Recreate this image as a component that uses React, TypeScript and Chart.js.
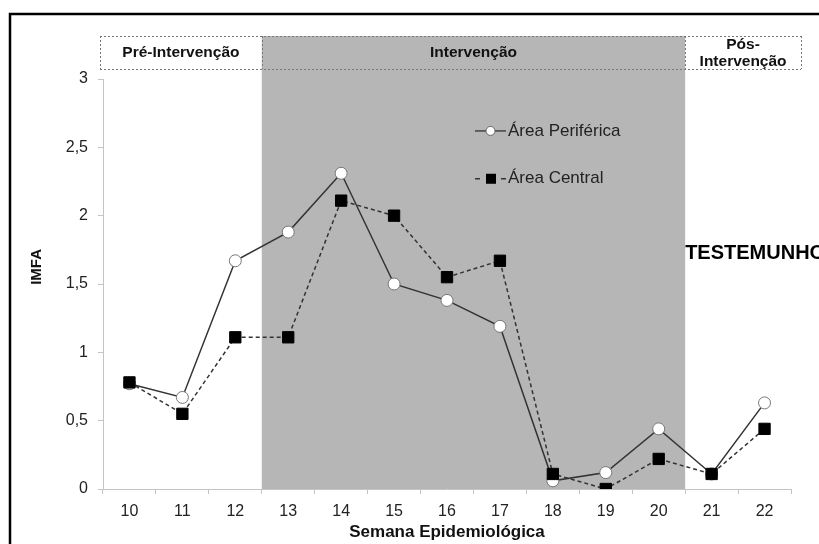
import React, { useEffect, useRef } from 'react';
import { Chart, registerables } from 'chart.js';

Chart.register(...registerables);

const weeks = ['10', '11', '12', '13', '14', '15', '16', '17', '18', '19', '20', '21', '22'];
const periferica = [0.77, 0.67, 1.67, 1.88, 2.31, 1.5, 1.38, 1.19, 0.06, 0.12, 0.44, 0.11, 0.63];
const central = [0.78, 0.55, 1.11, 1.11, 2.11, 2.0, 1.55, 1.67, 0.11, 0.0, 0.22, 0.11, 0.44];
const seriesNames = ['Área Periférica', 'Área Central'];
const phaseLabels = ['Pré-Intervenção', 'Intervenção', 'Pós-', 'Intervenção'];
const sideLabel = 'TESTEMUNHO';
const yTitle = 'IMFA';
const xTitle = 'Semana Epidemiológica';

const FONT = '"Liberation Sans", Arial, Helvetica, sans-serif';

const decorPlugin = {
  id: 'decor',
  beforeDraw(chart: any) {
    const { ctx } = chart;
    const xs = chart.scales.x;
    const ys = chart.scales.y;
    const bnd = (i: number) => (xs.getPixelForValue(i) + xs.getPixelForValue(i + 1)) / 2;
    const interL = bnd(2);
    const interR = bnd(10);
    const top = ys.getPixelForValue(3) - 43;
    const boxB = top + 33;
    const bottom = ys.getPixelForValue(0);
    const preL = xs.left - 3;
    const posR = xs.right + 10;
    ctx.save();
    ctx.fillStyle = 'rgb(182,182,182)';
    ctx.fillRect(interL, top, interR - interL, bottom - top);
    // dashed boxes
    ctx.strokeStyle = '#777';
    ctx.lineWidth = 1;
    ctx.setLineDash([2, 2]);
    ctx.beginPath();
    ctx.moveTo(preL, top + 0.5); ctx.lineTo(posR, top + 0.5);
    ctx.moveTo(preL, boxB + 0.5); ctx.lineTo(posR, boxB + 0.5);
    for (const x of [preL, interL, interR, posR]) {
      ctx.moveTo(Math.round(x) + 0.5, top); ctx.lineTo(Math.round(x) + 0.5, boxB);
    }
    ctx.stroke();
    ctx.setLineDash([]);
    // phase texts
    ctx.fillStyle = '#111';
    ctx.font = `bold 15.5px ${FONT}`;
    ctx.textAlign = 'center';
    ctx.textBaseline = 'middle';
    const mid = (top + boxB) / 2;
    ctx.fillText(phaseLabels[0], (preL + interL) / 2, mid);
    ctx.fillText(phaseLabels[1], (interL + interR) / 2, mid);
    ctx.fillText(phaseLabels[2], (interR + posR) / 2, mid - 8);
    ctx.fillText(phaseLabels[3], (interR + posR) / 2, mid + 9);
    // side label
    ctx.font = `bold 20px ${FONT}`;
    ctx.textAlign = 'left';
    ctx.fillStyle = '#000';
    ctx.fillText(sideLabel, interR, ys.getPixelForValue(1.72));
    // y title
    ctx.save();
    ctx.translate(37, ys.getPixelForValue(1.625));
    ctx.rotate(-Math.PI / 2);
    ctx.font = `bold 15px ${FONT}`;
    ctx.textAlign = 'center';
    ctx.fillStyle = '#111';
    ctx.fillText(yTitle, 0, 0);
    ctx.restore();
    ctx.restore();
  },
  afterDraw(chart: any) {
    const { ctx } = chart;
    const ys = chart.scales.y;
    const xs = chart.scales.x;
    ctx.save();
    // legend
    const lx = xs.getPixelForValue(6) + 28;
    const r1 = ys.getPixelForValue(2.62);
    const r2 = ys.getPixelForValue(2.27);
    ctx.strokeStyle = '#333';
    ctx.lineWidth = 1.3;
    ctx.beginPath();
    ctx.moveTo(lx, r1); ctx.lineTo(lx + 31, r1);
    ctx.stroke();
    ctx.beginPath();
    ctx.arc(lx + 15.5, r1, 4.5, 0, Math.PI * 2);
    ctx.fillStyle = '#fff';
    ctx.fill();
    ctx.strokeStyle = '#666';
    ctx.lineWidth = 1;
    ctx.stroke();
    ctx.strokeStyle = '#333';
    ctx.lineWidth = 1.3;
    ctx.beginPath();
    ctx.moveTo(lx, r2); ctx.lineTo(lx + 5, r2);
    ctx.moveTo(lx + 26, r2); ctx.lineTo(lx + 31, r2);
    ctx.stroke();
    ctx.fillStyle = '#000';
    ctx.fillRect(lx + 11, r2 - 5, 10, 10);
    ctx.font = `17px ${FONT}`;
    ctx.fillStyle = '#222';
    ctx.textAlign = 'left';
    ctx.textBaseline = 'middle';
    ctx.fillText(seriesNames[0], lx + 33, r1);
    ctx.fillText(seriesNames[1], lx + 33, r2);
    // outer border
    ctx.strokeStyle = '#000';
    ctx.lineWidth = 2.5;
    ctx.strokeRect(10, 14, 900, 700);
    ctx.restore();
  },
};

export default function App() {
  const ref = useRef<HTMLCanvasElement>(null);
  useEffect(() => {
    const canvas = ref.current;
    if (!canvas) return;
    const chart = new Chart(canvas, {
      type: 'line',
      data: {
        labels: weeks,
        datasets: [
          {
            label: seriesNames[0],
            data: periferica,
            borderColor: '#333',
            borderWidth: 1.5,
            pointStyle: 'circle',
            pointRadius: 6,
            pointBackgroundColor: '#fff',
            pointBorderColor: '#777',
            pointBorderWidth: 1,
            order: 2,
            tension: 0,
          },
          {
            label: seriesNames[1],
            data: central,
            borderColor: '#333',
            borderWidth: 1.5,
            borderDash: [4, 3],
            pointStyle: 'rect',
            pointRadius: 8,
            pointBackgroundColor: '#000',
            pointBorderColor: '#000',
            pointBorderWidth: 1,
            order: 1,
            tension: 0,
          },
        ],
      },
      options: {
        animation: false,
        responsive: false,
        maintainAspectRatio: false,
        layout: { padding: { top: 79, right: 28, left: 0, bottom: 0 } },
        plugins: {
          legend: { display: false },
          tooltip: { enabled: false },
        },
        scales: {
          x: {
            type: 'category',
            offset: true,
            grid: {
              display: true,
              offset: true,
              drawOnChartArea: false,
              tickLength: 5,
              color: '#c4c4c4',
            },
            border: { display: true, color: '#c4c4c4', width: 1 },
            ticks: {
              color: '#222',
              font: { family: FONT, size: 16 },
              padding: 8,
              maxRotation: 0,
            },
            title: {
              display: true,
              text: xTitle,
              color: '#111',
              font: { family: FONT, size: 17, weight: 'bold', lineHeight: 1.2 },
              padding: { top: 0, bottom: 1 },
            },
            afterFit: (s: any) => { s.height = 55; },
          },
          y: {
            min: 0,
            max: 3,
            grid: {
              display: true,
              drawOnChartArea: false,
              tickLength: 5,
              color: '#c4c4c4',
            },
            border: { display: true, color: '#c4c4c4', width: 1 },
            ticks: {
              stepSize: 0.5,
              color: '#222',
              font: { family: FONT, size: 16 },
              padding: 10,
              callback: (v: any) => String(v).replace('.', ','),
            },
            afterFit: (s: any) => { s.width = 103; },
          },
        },
      },
      plugins: [decorPlugin],
    });
    return () => chart.destroy();
  }, []);
  return (
    <div style={{ position: 'absolute', left: 0, top: 0, width: 819, height: 544, background: '#fff' }}>
      <canvas ref={ref} width={819} height={544} style={{ display: 'block', width: 819, height: 544 }} />
    </div>
  );
}
